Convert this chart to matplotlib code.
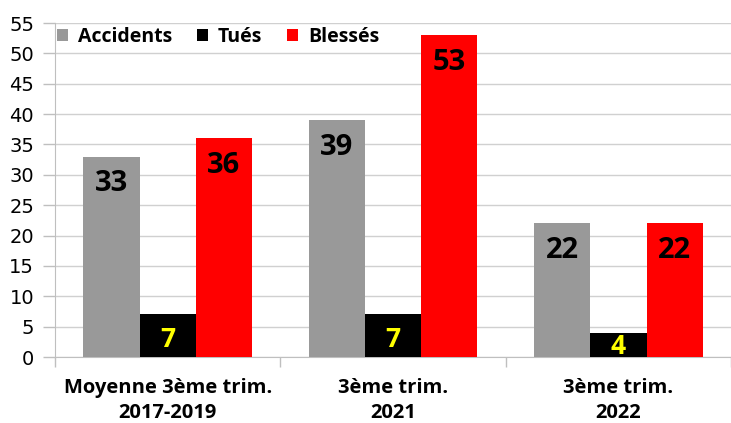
import matplotlib
matplotlib.use("Agg")
import matplotlib.pyplot as plt
import numpy as np

categories = ["Moyenne 3ème trim.\n2017-2019", "3ème trim.\n2021", "3ème trim.\n2022"]
series_names = ["Accidents", "Tués", "Blessés"]
accidents = [33, 39, 22]
tues = [7, 7, 4]
blesses = [36, 53, 22]
colors = ["#999999", "#000000", "#ff0000"]
label_colors = ["#000000", "#ffff00", "#000000"]
label_sizes = [21, 19, 21]
yticks = list(range(0, 60, 5))

W, H = 731, 423
fig = plt.figure(figsize=(W/100, H/100), dpi=100)
ax_bottom, ax_top = 357, 23
ax = fig.add_axes([55/W, 1-ax_bottom/H, 1-55/W, (ax_bottom-ax_top)/H])
ymax = 55
px_per_unit = (ax_bottom - ax_top) / ymax
pt = 72/100  # points per pixel

bold = dict(family="Open Sans", fontweight="bold")

x = np.arange(len(categories))
w = 0.25
for i, (vals, c, lc, fs, name) in enumerate(zip([accidents, tues, blesses], colors, label_colors, label_sizes, series_names)):
    pos = x + (i - 1) * w
    bars = ax.bar(pos, vals, width=w, color=c, label=name, zorder=3)
    cap = fs / pt * 0.714  # cap height in px
    for b, v in zip(bars, vals):
        xc = b.get_x() + b.get_width()/2
        if v * px_per_unit >= 14 + cap + 3:
            ax.annotate(str(v), (xc, v), xytext=(0, -(14 + cap) * pt),
                        textcoords="offset points", ha="center", va="baseline",
                        fontsize=fs, color=lc, zorder=4, **bold)
        else:
            ax.annotate(str(v), (xc, 0), xytext=(0, 3 * pt),
                        textcoords="offset points", ha="center", va="baseline",
                        fontsize=fs, color=lc, zorder=4, **bold)

ax.set_xlim(-0.5, 2.5)
ax.set_ylim(0, ymax)
ax.set_yticks(yticks)
ax.set_yticklabels([str(t) for t in yticks], fontsize=14, family="DejaVu Sans")
ax.yaxis.grid(True, color="#d0d0d0", linewidth=1, zorder=0)
ax.tick_params(axis="y", length=9, color="#bfbfbf", width=1, pad=6)
ax.set_xticks([-0.5, 0.5, 1.5, 2.5])
ax.set_xticklabels([])
ax.tick_params(axis="x", length=7, color="#bfbfbf", width=1)
ax.set_xticks(x, minor=True)
ax.set_xticklabels(categories, minor=True, fontsize=14.5, linespacing=1.32, **bold)
ax.tick_params(axis="x", which="minor", length=0, pad=15)
for s in ["top", "right"]:
    ax.spines[s].set_visible(False)
ax.spines["left"].set_color("#bfbfbf")
ax.spines["bottom"].set_color("#bfbfbf")

leg = ax.legend(loc="upper left", ncol=3, frameon=False,
                prop={"family": "Open Sans", "weight": "bold", "size": 14},
                handlelength=0.55, handleheight=0.55, handletextpad=0.5, columnspacing=1.3,
                bbox_to_anchor=(-0.008, 1.012), borderaxespad=0.0)

fig.savefig("out.png", dpi=100)
